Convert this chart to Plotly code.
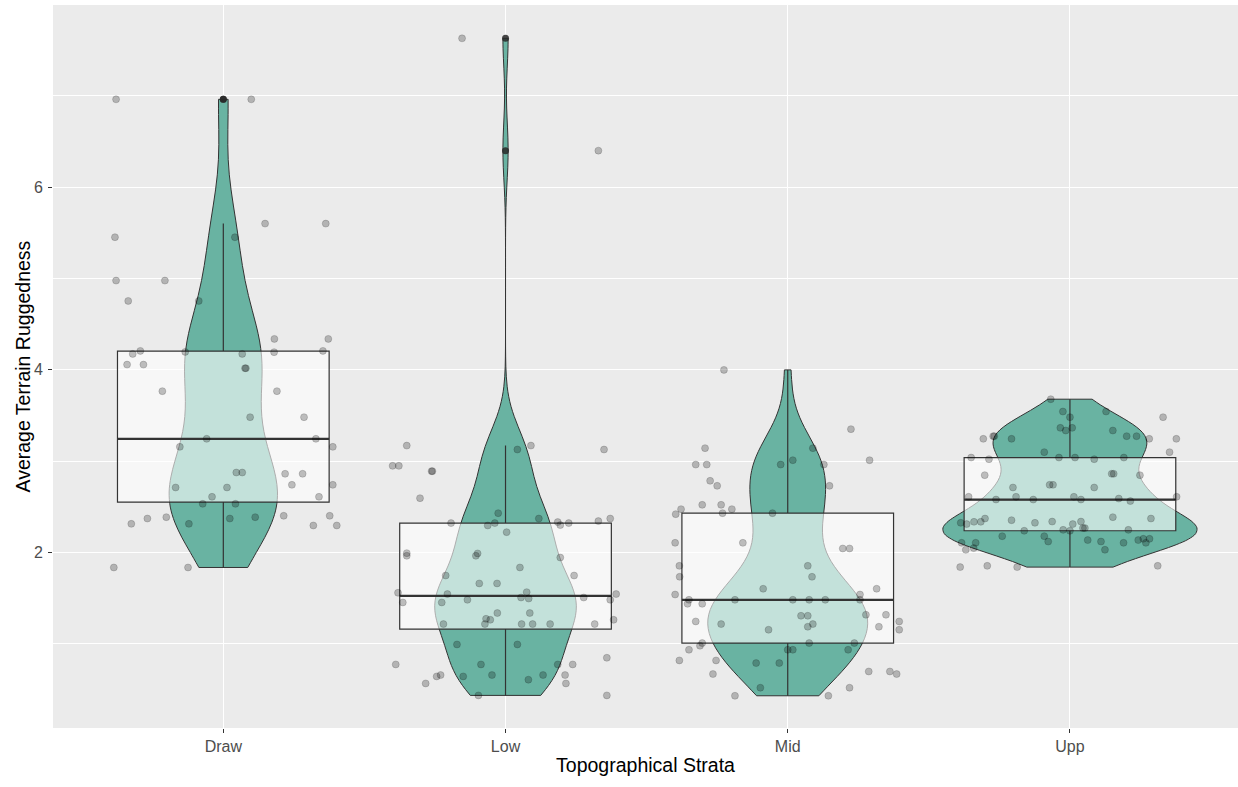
import numpy as np
import plotly.graph_objects as go

# Topographical strata shown along the x axis
strata = ["Draw", "Low", "Mid", "Upp"]

# Average terrain ruggedness per site, one list per stratum,
# with the horizontal jitter offset (in category units) of each dot
draw_vals = [6.963, 6.963, 5.453, 5.453, 5.602, 5.602, 4.978, 4.978, 4.755, 4.755,
             4.339, 4.339, 4.175, 4.208, 4.197, 4.175, 4.194, 4.208, 4.058, 4.058,
             4.018, 4.018, 3.767, 3.767, 3.482, 3.482, 3.245, 3.245, 3.157, 3.157,
             2.876, 2.876, 2.862, 2.862, 2.741, 2.741, 2.712, 2.712, 2.610, 2.610,
             2.533, 2.533, 2.314, 2.372, 2.387, 2.314, 2.372, 2.387, 2.402, 2.296,
             2.402, 2.296, 1.836, 1.836]
draw_jit = [-0.380, 0.099, -0.384, 0.041, 0.148, 0.363, -0.380, -0.207, -0.337, -0.087,
            0.181, 0.372, -0.321, -0.294, -0.135, 0.067, 0.180, 0.353, -0.341, -0.283,
            0.077, 0.080, -0.216, 0.190, 0.095, 0.286, -0.059, 0.328, -0.154, 0.388,
            0.046, 0.067, 0.219, 0.281, 0.243, 0.388, -0.169, 0.013, -0.040, 0.339,
            -0.073, 0.043, -0.326, -0.269, -0.202, -0.122, 0.023, 0.113, 0.214, 0.319,
            0.377, 0.402, -0.388, -0.125]

low_vals = [7.631, 6.401, 3.171, 3.171, 3.128, 3.128, 2.949, 2.949, 2.891, 2.891,
            2.595, 2.431, 2.322, 2.296, 2.322, 2.372, 2.333, 2.300, 2.322, 2.344,
            2.372, 2.223, 1.993, 1.964, 1.990, 1.964, 1.945, 1.836, 1.748, 1.748,
            1.661, 1.661, 1.559, 1.545, 1.566, 1.545, 1.453, 1.453, 1.482, 1.507,
            1.496, 1.507, 1.482, 1.337, 1.337, 1.274, 1.263, 1.263, 1.216, 1.216,
            1.216, 1.216, 1.216, 1.216, 0.993, 0.993, 0.847, 0.774, 0.774, 0.774,
            0.774, 0.643, 0.658, 0.658, 0.658, 0.658, 0.643, 0.607, 0.566, 0.566,
            0.435, 0.435]
low_jit = [-0.154, 0.329, -0.350, 0.090, 0.042, 0.349, -0.400, -0.378, -0.259, -0.262,
           -0.303, -0.026, -0.193, -0.063, -0.038, 0.118, 0.185, 0.194, 0.224, 0.329,
           0.371, 0.004, -0.350, -0.350, -0.099, -0.105, 0.194, 0.051, -0.212, 0.243,
           -0.093, -0.030, -0.381, -0.206, 0.075, 0.392, -0.364, -0.226, -0.135, 0.055,
           0.082, 0.277, 0.371, 0.086, -0.029, -0.069, -0.054, 0.383, -0.220, -0.073,
           0.057, 0.096, 0.158, 0.316, -0.172, 0.042, 0.359, -0.389, -0.087, 0.185,
           0.238, -0.244, -0.230, -0.048, 0.133, 0.211, -0.150, 0.081, -0.283, 0.214,
           -0.096, 0.359]

mid_vals = [4.000, 3.351, 3.143, 3.143, 2.963, 2.963, 2.963, 3.011, 2.963, 3.011,
            2.785, 2.730, 2.730, 2.420, 2.475, 2.522, 2.522, 2.431, 2.475, 2.431,
            2.106, 2.106, 2.044, 2.044, 1.854, 1.854, 1.734, 1.734, 1.603, 1.603,
            1.540, 1.540, 1.482, 1.482, 1.482, 1.482, 1.482, 1.482, 1.438, 1.438,
            1.318, 1.318, 1.307, 1.307, 1.245, 1.245, 1.216, 1.216, 1.187, 1.187,
            1.154, 1.154, 1.008, 1.008, 1.008, 0.979, 0.935, 0.935, 0.935, 0.935,
            0.818, 0.818, 0.789, 0.789, 0.697, 0.669, 0.697, 0.669, 0.519, 0.519,
            0.431, 0.431]
mid_jit = [-0.226, 0.224, -0.293, 0.089, -0.326, -0.287, -0.025, 0.018, 0.128, 0.290,
           -0.275, -0.250, 0.148, -0.397, -0.378, -0.303, -0.236, -0.231, -0.198, -0.054,
           -0.399, -0.159, 0.195, 0.219, -0.384, 0.071, -0.383, 0.086, -0.087, 0.315,
           -0.399, 0.256, -0.350, -0.187, 0.018, 0.076, 0.133, 0.256, -0.355, -0.303,
           0.277, 0.348, 0.047, 0.071, -0.326, 0.395, -0.236, 0.089, 0.071, 0.323,
           -0.068, 0.395, -0.303, 0.076, 0.236, -0.311, -0.350, 0.000, 0.018, 0.214,
           -0.384, -0.254, -0.112, -0.030, 0.287, -0.265, 0.362, 0.386, -0.097, 0.219,
           -0.187, 0.144]

upp_vals = [3.679, 3.544, 3.482, 3.544, 3.482, 3.365, 3.336, 3.365, 3.336, 3.245,
            3.274, 3.274, 3.245, 3.274, 3.274, 3.245, 3.245, 3.099, 3.099, 3.040,
            3.022, 3.040, 3.040, 3.022, 3.040, 2.847, 2.862, 2.862, 2.847, 2.712,
            2.741, 2.741, 2.712, 2.610, 2.580, 2.610, 2.580, 2.610, 2.580, 2.591,
            2.563, 2.610, 2.325, 2.311, 2.336, 2.336, 2.372, 2.354, 2.325, 2.339,
            2.311, 2.339, 2.267, 2.267, 2.387, 2.372, 2.248, 2.238, 2.238, 2.248,
            2.179, 2.179, 2.120, 2.136, 2.120, 2.030, 2.106, 2.136, 2.150, 2.106,
            2.150, 2.106, 2.030, 2.048, 2.106, 1.840, 1.854, 1.840, 1.854]
upp_jit = [-0.068, -0.025, 0.000, 0.128, 0.330, -0.034, -0.015, 0.008, 0.152, -0.307,
           -0.272, -0.268, -0.207, 0.201, 0.236, 0.281, 0.377, -0.091, 0.353, -0.350,
           -0.287, -0.039, 0.018, 0.086, 0.191, -0.302, 0.148, 0.155, 0.248, -0.202,
           -0.072, -0.060, 0.086, -0.359, -0.262, -0.191, -0.130, 0.014, 0.039, 0.173,
           0.214, 0.378, -0.387, -0.366, -0.340, -0.316, -0.301, -0.207, -0.124, -0.063,
           0.010, 0.039, 0.046, 0.053, 0.152, 0.287, -0.024, 0.000, -0.162, 0.207,
           -0.240, -0.091, -0.077, 0.063, 0.110, 0.124, 0.190, 0.242, 0.260, 0.269,
           0.282, -0.384, -0.369, -0.341, -0.334, -0.389, -0.293, -0.187, 0.311]

groups = [draw_vals, low_vals, mid_vals, upp_vals]
jitters = [draw_jit, low_jit, mid_jit, upp_jit]
positions = [1, 2, 3, 4]

VIOLIN_FILL = "#69b3a2"
EDGE = "#333333"
BOX_WIDTH = 0.75
VIOLIN_MAX_WIDTH = 0.9


def bw_nrd0(v):
    """Silverman's rule of thumb, as used by R's density()."""
    v = np.asarray(v, dtype=float)
    sd = v.std(ddof=1)
    iqr = np.subtract(*np.percentile(v, [75, 25]))
    lo = min(sd, iqr / 1.34)
    return 0.9 * lo * len(v) ** (-0.2)


def kde_peak(v, bw):
    """Highest value of the Gaussian kernel density over the data range."""
    v = np.asarray(v, dtype=float)
    grid = np.linspace(v.min(), v.max(), 512)
    z = (grid[:, None] - v[None, :]) / bw
    dens = np.exp(-0.5 * z ** 2).sum(axis=1) / (len(v) * bw * np.sqrt(2 * np.pi))
    return dens.max()


def box_stats(v):
    """Quartiles (R type 7) and Tukey whisker ends."""
    v = np.asarray(v, dtype=float)
    q1, med, q3 = np.percentile(v, [25, 50, 75])
    iqr = q3 - q1
    lo = v[v >= q1 - 1.5 * iqr].min()
    hi = v[v <= q3 + 1.5 * iqr].max()
    return q1, med, q3, lo, hi


bandwidths = [bw_nrd0(v) for v in groups]
peaks = [kde_peak(v, b) for v, b in zip(groups, bandwidths)]
# equal-area scaling: the densest violin gets the full width
violin_widths = [VIOLIN_MAX_WIDTH * p / max(peaks) for p in peaks]

fig = go.Figure()

for pos, vals, bw, w in zip(positions, groups, bandwidths, violin_widths):
    fig.add_trace(go.Violin(
        x=[pos] * len(vals), y=vals,
        width=w, scalemode="width",
        spanmode="hard", bandwidth=bw,
        fillcolor=VIOLIN_FILL, opacity=1,
        line=dict(color=EDGE, width=1),
        points=False, box_visible=False, meanline_visible=False,
        hoverinfo="skip",
    ))

# Boxplots drawn over the violins with a translucent white fill
for pos, vals in zip(positions, groups):
    q1, med, q3, lo, hi = box_stats(vals)
    outliers = [y for y in vals if y < lo or y > hi]
    fig.add_trace(go.Box(
        x=[pos], q1=[q1], median=[med], q3=[q3],
        lowerfence=[lo], upperfence=[hi],
        width=BOX_WIDTH, whiskerwidth=0,
        fillcolor="rgba(255,255,255,0.6)",
        line=dict(color=EDGE, width=1.2),
        boxpoints=False,
        hoverinfo="skip",
    ))
    if outliers:
        fig.add_trace(go.Scatter(
            x=[pos] * len(outliers), y=outliers, mode="markers",
            marker=dict(color="rgba(40,40,40,0.85)", size=7),
            hoverinfo="skip",
        ))
    # thicker median bar
    fig.add_trace(go.Scatter(
        x=[pos - BOX_WIDTH / 2, pos + BOX_WIDTH / 2], y=[med, med],
        mode="lines", line=dict(color=EDGE, width=2.2),
        hoverinfo="skip",
    ))

# Jittered raw observations
for pos, vals, jit in zip(positions, groups, jitters):
    fig.add_trace(go.Scatter(
        x=[pos + j for j in jit], y=vals,
        mode="markers",
        marker=dict(color="rgba(0,0,0,0.24)", size=7,
                    line=dict(width=0.8, color="rgba(0,0,0,0.2)")),
        hoverinfo="skip",
    ))

FONT = "Liberation Sans, Arial, sans-serif"
axis_font = dict(family=FONT, size=16, color="#4D4D4D")
title_font = dict(family=FONT, size=19.5, color="black")

fig.update_layout(
    width=1238, height=787,
    margin=dict(l=53, r=0, t=5, b=59),
    paper_bgcolor="white",
    plot_bgcolor="#EBEBEB",
    showlegend=False,
    violinmode="overlay",
    boxmode="overlay",
    font=dict(family=FONT),
    xaxis=dict(
        type="linear",
        range=[0.3965, 4.5955],
        tickvals=positions, ticktext=strata,
        showgrid=True, gridcolor="white", gridwidth=1.1,
        zeroline=False, showline=False,
        ticks="outside", ticklen=4, tickwidth=1, tickcolor=EDGE,
        ticklabelstandoff=0,
        tickfont=axis_font,
        automargin=False,
        title=dict(text="Topographical Strata", font=title_font, standoff=4),
    ),
    yaxis=dict(
        range=[0.078, 7.996],
        tickvals=[2, 4, 6],
        showgrid=True, gridcolor="white", gridwidth=1.1,
        minor=dict(tickvals=[1, 3, 5, 7], showgrid=True,
                   gridcolor="white", gridwidth=0.6),
        zeroline=False, showline=False,
        ticks="outside", ticklen=4, tickwidth=1, tickcolor=EDGE,
        ticklabelstandoff=2,
        tickfont=axis_font,
        automargin=False,
    ),
    annotations=[dict(
        text="Average Terrain Ruggedness", font=title_font,
        textangle=-90, showarrow=False,
        xref="paper", yref="paper", x=(22 - 53) / 1185, y=0.5,
        xanchor="center", yanchor="middle",
    )],
)

fig.write_html("out.html")
